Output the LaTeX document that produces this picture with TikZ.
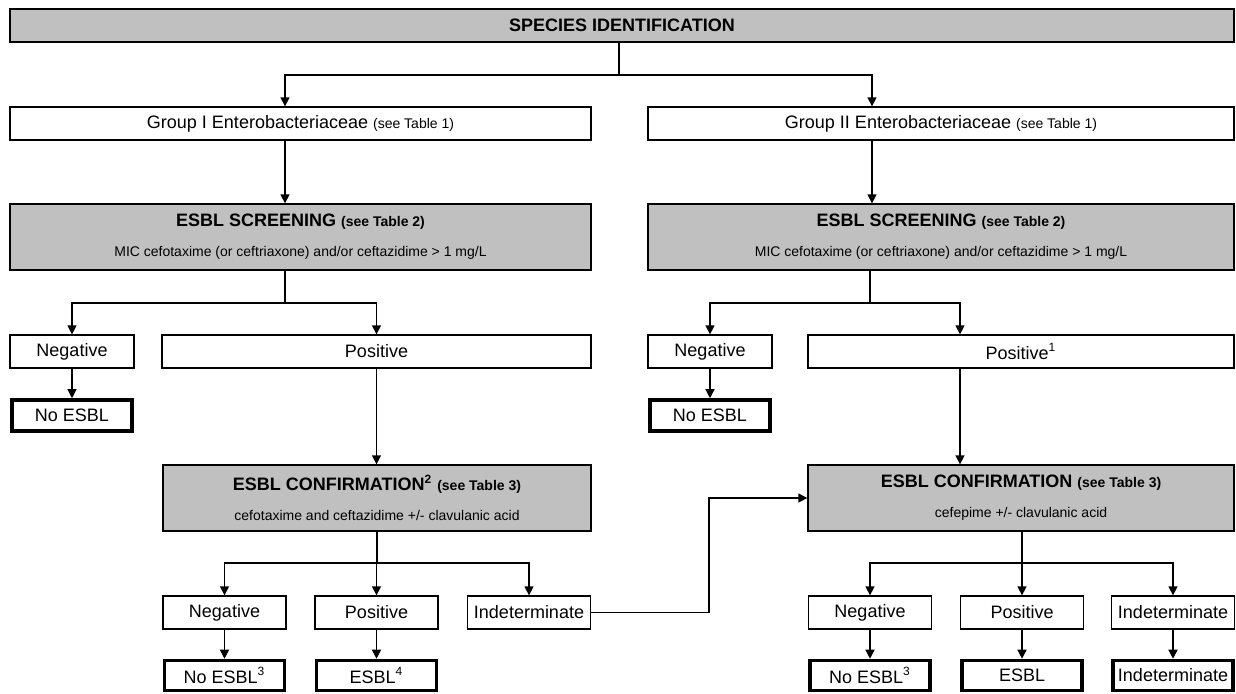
\documentclass[tikz,border=0pt]{standalone}
\usepackage{fontspec}
\setmainfont{Liberation Sans}
\usepackage{tikz}
\usetikzlibrary{arrows.meta, positioning, calc}
\definecolor{boxgray}{RGB}{192, 192, 192}
\newcommand{\smalltxt}[1]{{\fontsize{7}{8}\selectfont #1}}

\begin{document}
\begin{tikzpicture}[x=0.5pt, y=-0.5pt,
		box/.style={draw, line width=0.65pt, inner sep=0pt, align=center, font=\fontsize{9}{10}\selectfont},
		grey/.style={box, fill=boxgray, font=\fontsize{9}{15}\selectfont},
		res/.style={box, line width=1.8pt},
		wd/.style={minimum width=#1*0.5pt},
		ht/.style={minimum height=#1*0.5pt},
		link/.style={line width=0.65pt},
		arr/.style={link, -{Triangle[length=4.5pt, width=4.5pt]}}]
	\useasboundingbox (0,0) rectangle (1236,693);
	% identification and the two groups
	\node[grey, wd=1224, ht=33] (spec) at (622,25.5) {\textbf{SPECIES IDENTIFICATION}};
	\node[box, wd=581, ht=33] (grpI) at (300.5,123.5) {Group I Enterobacteriaceae \smalltxt{(see Table 1)}};
	\node[box, wd=586, ht=33] (grpII) at (941,123.5) {Group II Enterobacteriaceae \smalltxt{(see Table 1)}};
	% screening
	\node[grey, wd=581, ht=66] (scrI) at (300.5,237) {\textbf{ESBL SCREENING} \smalltxt{\textbf{(see Table 2)}}\\
		\smalltxt{MIC cefotaxime (or ceftriaxone) and/or ceftazidime > 1 mg/L}};
	\node[grey, wd=586, ht=66] (scrII) at (941,237) {\textbf{ESBL SCREENING} \smalltxt{\textbf{(see Table 2)}}\\
		\smalltxt{MIC cefotaxime (or ceftriaxone) and/or ceftazidime > 1 mg/L}};
	\node[box, wd=124, ht=33] (negI) at (72,351.5) {Negative};
	\node[box, wd=429, ht=33] (posI) at (376.5,351.5) {Positive};
	\node[box, wd=124, ht=33] (negII) at (710,351.5) {Negative};
	\node[box, wd=426, ht=33] (posII) at (1021,351.5) {Positive\textsuperscript{1}};
	\node[res, wd=120, ht=31] (noI) at (72,415.5) {No ESBL};
	\node[res, wd=120, ht=31] (noII) at (710,415.5) {No ESBL};
	% confirmation
	\node[grey, wd=428, ht=66] (confI) at (377,498) {\textbf{ESBL CONFIRMATION\textsuperscript{2}} \smalltxt{\textbf{(see Table 3)}}\\
		\smalltxt{cefotaxime and ceftazidime +/- clavulanic acid}};
	\node[grey, wd=426, ht=66] (confII) at (1021,498) {\textbf{ESBL CONFIRMATION} \smalltxt{\textbf{(see Table 3)}}\\
		\smalltxt{cefepime +/- clavulanic acid}};
	\foreach \nm/\x/\lab in {cnegI/224.5/Negative, cposI/376.5/Positive, cindI/529/Indeterminate,
		cnegII/870/Negative, cposII/1022/Positive, cindII/1173/Indeterminate}
		\node[box, wd=123, ht=33] (\nm) at (\x,612.5) {\lab};
	\foreach \nm/\x/\lab in {resIa/224.5/{No ESBL\textsuperscript{3}}, resIb/376.5/{ESBL\textsuperscript{4}},
		resIIa/870/{No ESBL\textsuperscript{3}}, resIIb/1022/ESBL, resIIc/1173/Indeterminate}
		\node[res, wd=120, ht=30] (\nm) at (\x,675.5) {\lab};
	% junctions
	\coordinate (colL) at (285,0);
	\coordinate (colR) at (872,0);
	\coordinate (colP) at (960,0);
	\coordinate (jTop) at (619,75);
	\coordinate (sI) at (285,303);
	\coordinate (sII) at (870,303);
	\coordinate (cI) at (377,563);
	\coordinate (cII) at (1022,563);
	\coordinate (kink) at (709,0);
	% connectors
	\draw[link] (spec.south -| jTop) -- (jTop);
	\draw[arr] (jTop) -| (grpI.north -| colL);
	\draw[arr] (jTop) -| (grpII.north -| colR);
	\draw[arr] (grpI.south -| colL) -- (scrI.north -| colL);
	\draw[arr] (grpII.south -| colR) -- (scrII.north -| colR);
	\draw[link] (scrI.south -| sI) -- (sI);
	\draw[link] (scrII.south -| sII) -- (sII);
	\draw[arr] (sI) -| (negI);
	\draw[arr] (sI) -| (posI);
	\draw[arr] (sII) -| (negII);
	\draw[arr] (sII) -| (posII.north -| colP);
	\draw[arr] (negI) -- (noI);
	\draw[arr] (negII) -- (noII);
	\draw[arr] (posI.south) -- (posI.south |- confI.north);
	\draw[arr] (posII.south -| colP) -- (confII.north -| colP);
	\draw[link] (confI.south) -- (cI);
	\draw[link] (confII.south -| cII) -- (cII);
	\foreach \nm in {cnegI, cposI, cindI}
		\draw[arr] (cI) -| (\nm);
	\foreach \nm in {cnegII, cposII, cindII}
		\draw[arr] (cII) -| (\nm);
	\foreach \a/\b in {cnegI/resIa, cposI/resIb, cnegII/resIIa, cposII/resIIb, cindII/resIIc}
		\draw[arr] (\a) -- (\b);
	\draw[arr] (cindI) -- (cindI -| kink) |- (confII);
\end{tikzpicture}
\end{document}
